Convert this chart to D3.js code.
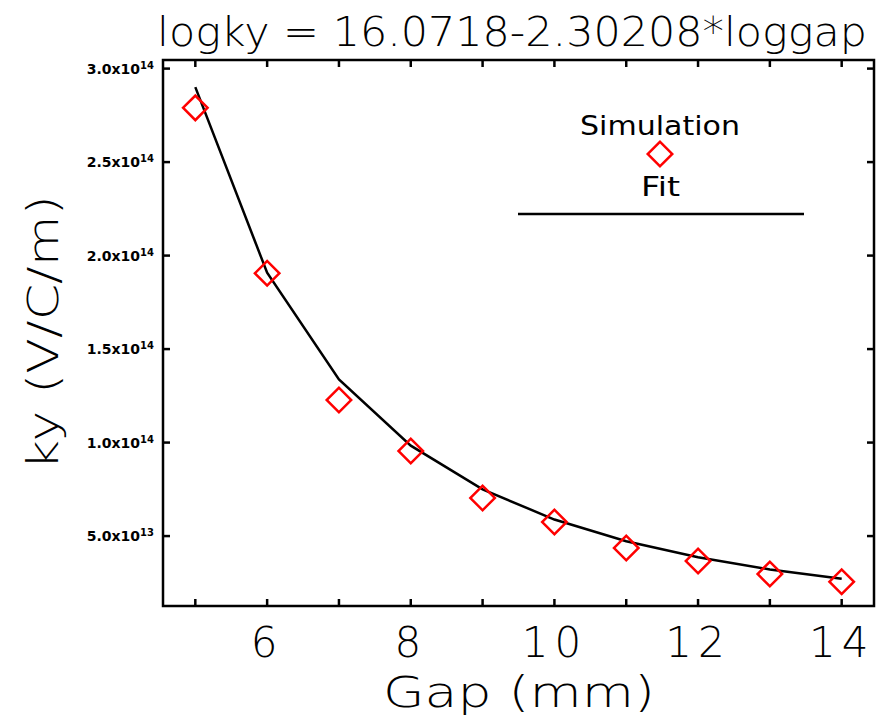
<!DOCTYPE html>
<html>
<head>
<meta charset="utf-8">
<script src="https://cdn.jsdelivr.net/npm/d3@7"></script>
<style>
  body { margin: 0; background: #fff; }
  text { font-family: "DejaVu Sans", sans-serif; }
  .thin { font-weight: 200; }
</style>
</head>
<body>
<div id="chart"></div>
<script>
// Simulated ky vs gap, with the power-law fit
const gaps = [5, 6, 7, 8, 9, 10, 11, 12, 13, 14];
const simKy = [2.79e14, 1.905e14, 1.228e14, 9.55e13, 7.04e13, 5.75e13, 4.36e13, 3.67e13, 2.97e13, 2.56e13];
const fitKy = [2.901e14, 1.908e14, 1.338e14, 9.836e13, 7.499e13, 5.884e13, 4.725e13, 3.869e13, 3.217e13, 2.713e13];
const xTickLabels = [6, 8, 10, 12, 14];
const yTicks = [5e13, 1e14, 1.5e14, 2e14, 2.5e14, 3e14];
const yTickLabels = [["5.0x10", "13"], ["1.0x10", "14"], ["1.5x10", "14"], ["2.0x10", "14"], ["2.5x10", "14"], ["3.0x10", "14"]];
const titleText = "logky = 16.0718-2.30208*loggap";

const width = 881, height = 724;
const plotL = 163, plotR = 874, plotT = 60, plotB = 606;

const svg = d3.select('#chart').append('svg')
    .attr('width', width)
    .attr('height', height);

const x = d3.scaleLinear().domain([4.55, 14.45]).range([plotL, plotR]);
const y = d3.scaleLinear().domain([1.26e13, 3.046e14]).range([plotB, plotT]);

// frame
svg.append('rect')
    .attr('x', plotL).attr('y', plotT)
    .attr('width', plotR - plotL).attr('height', plotB - plotT)
    .attr('fill', 'none').attr('stroke', '#000').attr('stroke-width', 2.5);

// ticks on all sides
const tickLen = 7;
gaps.forEach(g => {
    svg.append('line').attr('x1', x(g)).attr('x2', x(g)).attr('y1', plotB).attr('y2', plotB - tickLen)
        .attr('stroke', '#000').attr('stroke-width', 2.5);
    svg.append('line').attr('x1', x(g)).attr('x2', x(g)).attr('y1', plotT).attr('y2', plotT + tickLen)
        .attr('stroke', '#000').attr('stroke-width', 2.5);
});
yTicks.forEach(v => {
    svg.append('line').attr('x1', plotL).attr('x2', plotL + tickLen).attr('y1', y(v)).attr('y2', y(v))
        .attr('stroke', '#000').attr('stroke-width', 2.5);
    svg.append('line').attr('x1', plotR).attr('x2', plotR - tickLen).attr('y1', y(v)).attr('y2', y(v))
        .attr('stroke', '#000').attr('stroke-width', 2.5);
});

// x tick labels
svg.selectAll('.xl').data(xTickLabels).enter().append('text')
    .attr('class', 'thin')
    .attr('x', d => x(d)).attr('y', 657)
    .attr('text-anchor', 'middle')
    .style('font-size', '42px')
    .style('letter-spacing', '6px')
    .text(d => d);

// y tick labels with superscript
yTicks.forEach((v, i) => {
    const t = svg.append('text')
        .attr('x', 154).attr('y', y(v) + 5)
        .attr('text-anchor', 'end')
        .style('font-size', '14px')
        .style('font-weight', 'bold');
    t.append('tspan').text(yTickLabels[i][0]);
    t.append('tspan').attr('dy', -5).style('font-size', '10px').text(yTickLabels[i][1]);
});

// axis titles
svg.append('text')
    .attr('class', 'thin')
    .attr('x', 383).attr('y', 707)
    .attr('textLength', 272).attr('lengthAdjust', 'spacingAndGlyphs')
    .style('font-size', '42px')
    .text('Gap (mm)');

svg.append('text')
    .attr('class', 'thin')
    .attr('transform', 'translate(58,470) rotate(-90)')
    .attr('textLength', 275).attr('lengthAdjust', 'spacingAndGlyphs')
    .style('font-size', '42px')
    .text('ky (V/C/m)');

// title
svg.append('text')
    .attr('class', 'thin')
    .attr('x', 157).attr('y', 46)
    .attr('textLength', 710).attr('lengthAdjust', 'spacingAndGlyphs')
    .style('font-size', '40px')
    .text(titleText);

// fit line
const line = d3.line().x((d, i) => x(gaps[i])).y(d => y(d));
svg.append('path')
    .datum(fitKy)
    .attr('d', line)
    .attr('fill', 'none')
    .attr('stroke', '#000')
    .attr('stroke-width', 2.5);

// simulation diamonds
const diamond = d3.symbol().type(d3.symbolSquare).size(300);
svg.selectAll('.pt').data(simKy).enter().append('path')
    .attr('d', diamond)
    .attr('transform', (d, i) => `translate(${x(gaps[i])},${y(d)}) rotate(45)`)
    .attr('fill', 'none')
    .attr('stroke', '#ff0000')
    .attr('stroke-width', 2.5);

// legend
svg.append('text')
    .attr('x', 580).attr('y', 135)
    .attr('textLength', 160).attr('lengthAdjust', 'spacingAndGlyphs')
    .style('font-size', '27px')
    .text('Simulation');
svg.append('path')
    .attr('d', diamond)
    .attr('transform', 'translate(660,154) rotate(45)')
    .attr('fill', 'none')
    .attr('stroke', '#ff0000')
    .attr('stroke-width', 2.5);
svg.append('text')
    .attr('x', 641).attr('y', 196)
    .attr('textLength', 39).attr('lengthAdjust', 'spacingAndGlyphs')
    .style('font-size', '27px')
    .text('Fit');
svg.append('line')
    .attr('x1', 518).attr('x2', 804).attr('y1', 214).attr('y2', 214)
    .attr('stroke', '#000').attr('stroke-width', 2.5);
</script>
</body>
</html>
